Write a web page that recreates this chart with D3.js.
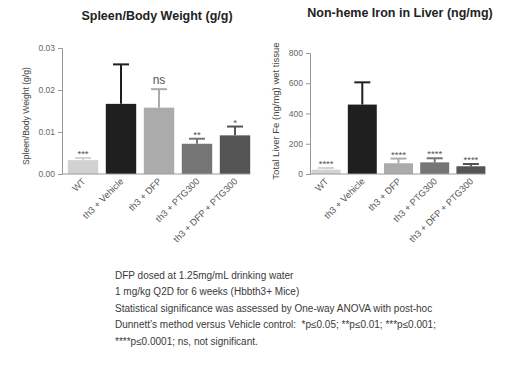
<!DOCTYPE html>
<html>
  <head>
    <meta charset="utf-8" />
    <script src="https://cdn.jsdelivr.net/npm/d3@7"></script>
    <style>
      body {
        margin: 0;
        background: #ffffff;
      }
      svg {
        display: block;
        font-family: "Liberation Sans", Arial, sans-serif;
      }
      .title {
        font-weight: bold;
        font-size: 12.5px;
        fill: #222;
      }
      .tick text {
        font-size: 8.5px;
        fill: #666;
      }
      .note {
        font-size: 10px;
        fill: #3a3a3a;
        white-space: pre;
      }
    </style>
  </head>
  <body>
    <svg id="chart" width="522" height="374"></svg>
    <script>
      // groups, shared by both panels
      const groups = ["WT", "th3 + Vehicle", "th3 + DFP", "th3 + PTG300", "th3 + DFP + PTG300"];
      const barColors = ["#d2d2d2", "#1f1f1f", "#ababab", "#757575", "#545454"];

      // spleen / body weight (g/g)
      const spleenMean = [0.0033, 0.0167, 0.0158, 0.0072, 0.0092];
      const spleenErr = [0.0005, 0.0094, 0.0044, 0.0012, 0.0021];
      const spleenSig = ["***", "", "ns", "**", "*"];
      const spleenTicks = [0, 0.01, 0.02, 0.03];

      // liver non-heme iron (ng/mg)
      const liverMean = [29, 459, 71, 77, 51];
      const liverErr = [11, 147, 31, 27, 15];
      const liverSig = ["****", "", "****", "****", "****"];
      const liverTicks = [0, 200, 400, 600, 800];

      const notes = [
        "DFP dosed at 1.25mg/mL drinking water",
        "1 mg/kg Q2D for 6 weeks (Hbbth3+ Mice)",
        "Statistical significance was assessed by One-way ANOVA with post-hoc",
        "Dunnett\u2019s method versus Vehicle control:  *p\u22640.05; **p\u22640.01; ***p\u22640.001;",
        "****p\u22640.0001; ns, not significant.",
      ];

      const svg = d3.select("#chart");

      function panel(opts) {
        const g = svg.append("g");
        const x = d3.scaleBand().domain(groups).range(opts.xRange).paddingInner(0.2).paddingOuter(0.1);
        const y = d3.scaleLinear().domain(opts.yDomain).range([174, opts.yTop]);
        const x0 = opts.axisX;

        g.append("text")
          .attr("class", "title")
          .attr("x", opts.titleX)
          .attr("y", opts.titleY)
          .attr("text-anchor", "middle")
          .text(opts.title);

        // y axis
        const yAxis = g.append("g")
          .attr("transform", `translate(${x0},0)`)
          .call(d3.axisLeft(y).tickValues(opts.ticks).tickFormat(opts.fmt).tickSize(4).tickPadding(3));
        yAxis.selectAll("line, path").attr("stroke", "#999");

        g.append("text")
          .attr("transform", `translate(${opts.labelX},${opts.labelY}) rotate(-90)`)
          .attr("text-anchor", "middle")
          .attr("font-size", opts.labelSize)
          .attr("fill", "#444")
          .text(opts.yLabel);

        // error bars (upper only)
        groups.forEach((d, i) => {
          const cx = x(d) + x.bandwidth() / 2;
          const top = y(opts.mean[i] + opts.err[i]);
          g.append("line")
            .attr("x1", cx).attr("x2", cx)
            .attr("y1", y(opts.mean[i])).attr("y2", top)
            .attr("stroke", barColors[i]).attr("stroke-width", 2);
          g.append("line")
            .attr("x1", cx - 8).attr("x2", cx + 8)
            .attr("y1", top).attr("y2", top)
            .attr("stroke", barColors[i]).attr("stroke-width", 2);
        });

        g.selectAll("rect.bar")
          .data(groups)
          .join("rect")
          .attr("class", "bar")
          .attr("x", (d) => x(d))
          .attr("width", x.bandwidth())
          .attr("y", (d, i) => y(opts.mean[i]))
          .attr("height", (d, i) => y(0) - y(opts.mean[i]))
          .attr("fill", (d, i) => barColors[i]);

        // x baseline
        g.append("line")
          .attr("x1", x0).attr("x2", x(groups[4]) + x.bandwidth())
          .attr("y1", y(0)).attr("y2", y(0))
          .attr("stroke", "#999");

        // significance marks
        groups.forEach((d, i) => {
          if (!opts.sig[i]) return;
          const ns = opts.sig[i] === "ns";
          g.append("text")
            .attr("x", x(d) + x.bandwidth() / 2)
            .attr("y", y(opts.mean[i] + opts.err[i]) - (ns ? 5 : 1))
            .attr("text-anchor", "middle")
            .attr("font-size", ns ? 12 : 9.5)
            .attr("fill", "#555")
            .text(opts.sig[i]);
        });

        // rotated category labels
        groups.forEach((d) => {
          const cx = x(d) + x.bandwidth() / 2 + 3;
          g.append("text")
            .attr("transform", `translate(${cx},${y(0) + 8}) rotate(-45)`)
            .attr("text-anchor", "end")
            .attr("font-size", 9.2)
            .attr("fill", "#555")
            .text(d);
        });
      }

      panel({
        title: "Spleen/Body Weight (g/g)", titleX: 157, titleY: 19.5,
        xRange: [64, 254], axisX: 62, yDomain: [0, 0.03], yTop: 48,
        ticks: spleenTicks, fmt: d3.format(".2f"),
        yLabel: "Spleen/Body Weight (g/g)", labelX: 29, labelY: 116, labelSize: 8.6,
        mean: spleenMean, err: spleenErr, sig: spleenSig,
      });

      panel({
        title: "Non-heme Iron in Liver (ng/mg)", titleX: 400, titleY: 17,
        xRange: [308, 489], axisX: 310, yDomain: [0, 800], yTop: 53,
        ticks: liverTicks, fmt: d3.format("d"),
        yLabel: "Total Liver Fe (ng/mg) wet tissue", labelX: 278.5, labelY: 111, labelSize: 9.5,
        mean: liverMean, err: liverErr, sig: liverSig,
      });

      svg.append("g")
        .selectAll("text")
        .data(notes)
        .join("text")
        .attr("class", "note")
        .attr("x", 115)
        .attr("y", (d, i) => 278.5 + i * 16.6)
        .text((d) => d);
    </script>
  </body>
</html>
